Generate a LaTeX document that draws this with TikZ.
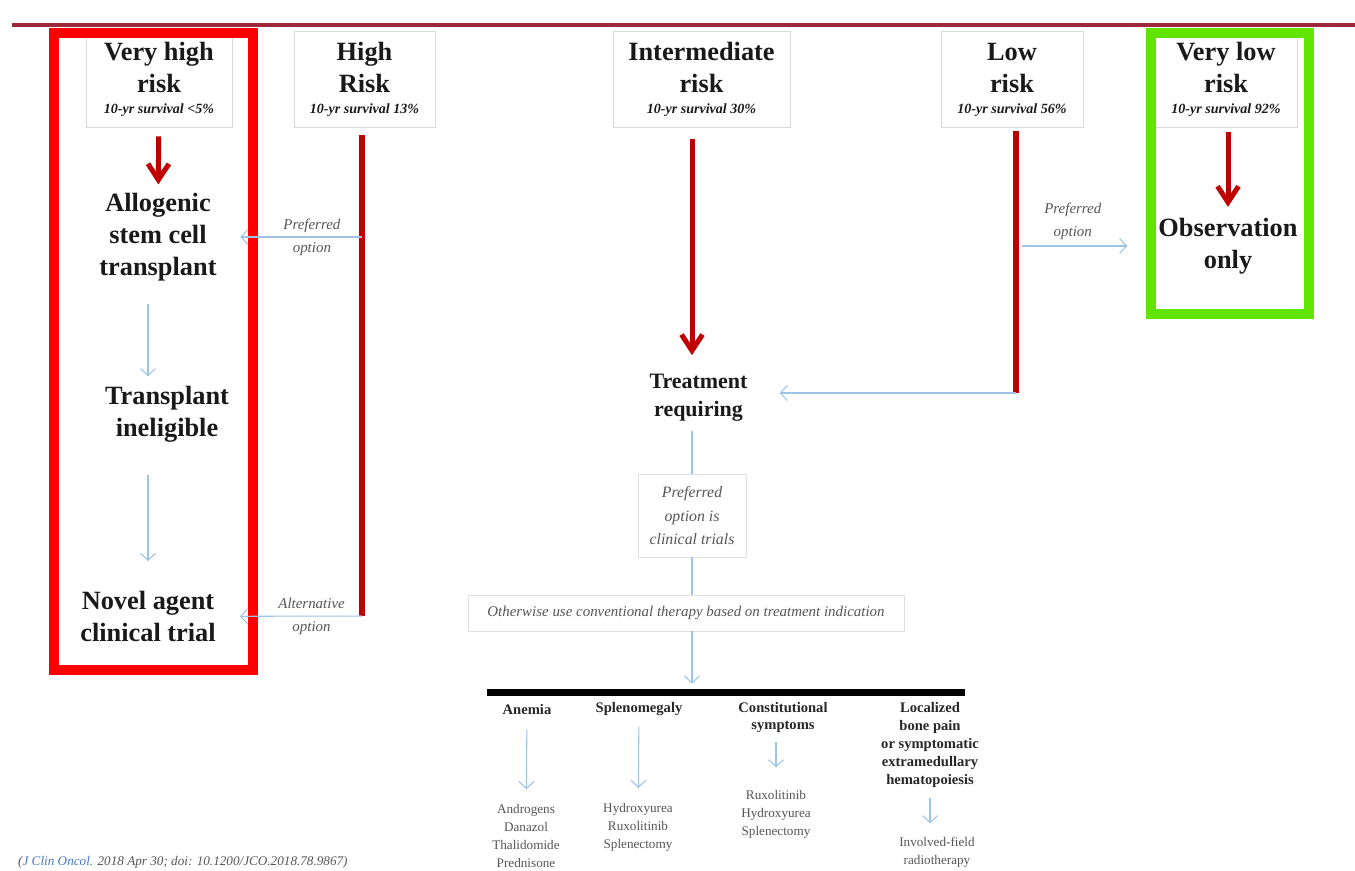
\documentclass[tikz,border=0pt]{standalone}
\usepackage{fontspec}
\setmainfont{Liberation Serif}
\usepackage{xcolor}
\usetikzlibrary{arrows.meta}
\definecolor{rulered}{RGB}{158,40,58}
\definecolor{darkred}{RGB}{192,0,0}
\definecolor{framered}{RGB}{255,0,0}
\definecolor{framegreen}{RGB}{96,228,0}
\definecolor{lineblue}{RGB}{157,195,230}
\definecolor{textgray}{RGB}{85,85,85}
\definecolor{citeblue}{RGB}{70,120,190}
\newcommand{\surv}[1]{{\fontsize{8}{9}\selectfont\itshape #1}}
\tikzset{hdr/.style={rectangle,draw=black!15,minimum height=1.92cm,inner sep=0pt,align=center,font=\fontsize{15}{18.2}\selectfont\bfseries,text=black!90}}
\tikzset{big/.style={align=center,font=\fontsize{15}{18.2}\selectfont\bfseries,text=black!90}}
\tikzset{opt/.style={align=center,font=\fontsize{8.5}{13}\selectfont\itshape,text=textgray}}
\tikzset{optbox/.style={rectangle,draw=black!12,align=center,inner sep=0pt,text=textgray}}
\tikzset{frame/.style={rectangle,draw,line width=0.2cm,inner sep=0pt}}
\tikzset{redarrow/.style={draw=darkred,line width=0.1cm,-{Straight Barb[length=0.32cm,width=0.42cm]}}}
\tikzset{redline/.style={draw=darkred,line width=0.12cm}}
\tikzset{bluearrow/.style={draw=lineblue,line width=0.6pt,-{Straight Barb[length=0.14cm,width=0.3cm]}}}
\tikzset{blueline/.style={draw=lineblue,line width=0.6pt}}
\tikzset{colhead/.style={align=center,font=\fontsize{8.3}{10.2}\selectfont\bfseries,text=black!85}}
\tikzset{colitem/.style={align=center,font=\fontsize{7.5}{10.2}\selectfont,text=textgray}}
\begin{document}
\begin{tikzpicture}[x=0.02cm,y=-0.02cm]
    \useasboundingbox (0,0) rectangle (1355,870);
    \draw[rulered,line width=0.07cm] (12,25) -- (1355,25);

    % risk groups
    \node[hdr,minimum width=2.92cm] (vhigh) at (159,79.5) {Very high\\risk\\[-6.3pt]\surv{10-yr survival <5\%}};
    \node[hdr,minimum width=2.82cm] (high) at (364.5,79.5) {High\\Risk\\[-6.3pt]\surv{10-yr survival 13\%}};
    \node[hdr,minimum width=3.54cm] (inter) at (701.5,79.5) {Intermediate\\risk\\[-6.3pt]\surv{10-yr survival 30\%}};
    \node[hdr,minimum width=2.84cm] (low) at (1012,79.5) {Low\\risk\\[-6.3pt]\surv{10-yr survival 56\%}};
    \node[hdr,minimum width=2.84cm] (vlow) at (1226,79.5) {Very low\\risk\\[-6.3pt]\surv{10-yr survival 92\%}};

    \node[big] (allo) at (158,237) {Allogenic\\stem cell\\transplant};
    \node[big] (trans) at (167,414.5) {Transplant\\ineligible};
    \node[big] (novel) at (148,616.5) {Novel agent\\clinical trial};
    \node[big] (obs) at (1228,246) {Observation\\only};
    \node[big,font=\fontsize{12.5}{16}\selectfont\bfseries] (treat) at (698.5,398) {Treatment\\requiring};

    \node[optbox,minimum width=2.16cm,minimum height=1.66cm,font=\fontsize{9}{13.3}\selectfont\itshape] (pref) at (692,515.5) {Preferred\\option is\\clinical trials};
    \node[optbox,minimum width=8.72cm,minimum height=0.72cm,font=\fontsize{8.5}{10}\selectfont\itshape] (other) at (686,613) {Otherwise use conventional therapy based on treatment indication};
    \node[fill=black,minimum width=9.56cm,minimum height=0.14cm,inner sep=0pt] (bar) at (726,692.5) {};

    % treatment indications
    \node[colhead] (anem) at (527,709) {Anemia};
    \node[colitem] (anemrx) at (526,836) {Androgens\\Danazol\\Thalidomide\\Prednisone};
    \node[colhead] (spleno) at (639,709) {Splenomegaly};
    \node[colitem] (splenorx) at (638,827) {Hydroxyurea\\Ruxolitinib\\Splenectomy};
    \node[colhead] (const) at (783,717.5) {Constitutional\\symptoms};
    \node[colitem] (constrx) at (776,814.5) {Ruxolitinib\\Hydroxyurea\\Splenectomy};
    \node[colhead] (local) at (930,745) {Localized\\bone pain\\or symptomatic\\extramedullary\\hematopoiesis};
    \node[colitem] (localrx) at (937,852.5) {Involved-field\\radiotherapy};

    \node[anchor=west,font=\fontsize{7.5}{9}\selectfont\itshape,text=textgray] (cite) at (12,862) {(\textcolor{citeblue}{J Clin Oncol.} 2018 Apr 30; doi: 10.1200/JCO.2018.78.9867)};

    % highlight frames
    \node[frame,draw=framered,minimum width=3.98cm,minimum height=12.74cm] (vhframe) at (153.5,351.5) {};
    \node[frame,draw=framegreen,minimum width=3.16cm,minimum height=5.62cm] (vlframe) at (1230,173.5) {};

    \coordinate (hpref) at (362,237);
    \coordinate (hbot) at (362,616);
    \coordinate (lpref) at (1022,246);
    \coordinate (lbot) at (1016,393);

    \draw[redarrow,shorten <=0.17cm,shorten >=0.05cm] (vhigh) -- (allo);
    \draw[bluearrow,shorten <=0.34cm,shorten >=0.08cm] (allo.south -| novel) -- (trans.north -| novel);
    \draw[bluearrow,shorten <=0.52cm,shorten >=0.48cm] (trans.south -| novel) -- (novel.north);
    \draw[redline,shorten <=0.15cm] (high.south -| hbot) -- (hbot);
    \draw[bluearrow,shorten >=0.35cm] (hpref) -- (allo) node[opt,pos=0.36]{Preferred\\option};
    \draw[bluearrow,shorten >=0.36cm] (hbot) -- (novel) node[opt,pos=0.36]{Alternative\\option};
    \draw[redarrow,shorten <=0.23cm,shorten >=0.26cm] (inter.south -| pref) -- (treat.north -| pref);
    \draw[redline,shorten <=0.07cm] (low.south -| lbot) -- (lbot);
    \draw[bluearrow,shorten >=0.52cm] (lbot) -- (lbot -| treat.east);
    \draw[bluearrow,shorten >=0.5cm] (lpref) -- (obs) node[opt,above,pos=0.39]{Preferred\\option};
    \draw[redarrow,shorten <=0.09cm,shorten >=0.1cm] (vlow.south -| obs) -- (obs.north);
    \draw[blueline,shorten <=0.06cm] (treat.south -| pref) -- (pref);
    \draw[blueline] (pref) -- (other.north -| pref);
    \draw[bluearrow,shorten >=0.1cm] (other.south -| pref) -- (bar.north -| pref);

    \draw[bluearrow,shorten <=0.18cm,shorten >=0.18cm] (anem) -- (anemrx);
    \draw[bluearrow,shorten <=0.1cm,shorten >=0.18cm] (spleno) -- (splenorx);
    \draw[bluearrow,shorten <=0.06cm,shorten >=0.34cm] (const.south -| constrx) -- (constrx);
    \draw[bluearrow,shorten <=0.08cm,shorten >=0.16cm] (local.south) -- (local.south |- localrx.north);
\end{tikzpicture}
\end{document}
